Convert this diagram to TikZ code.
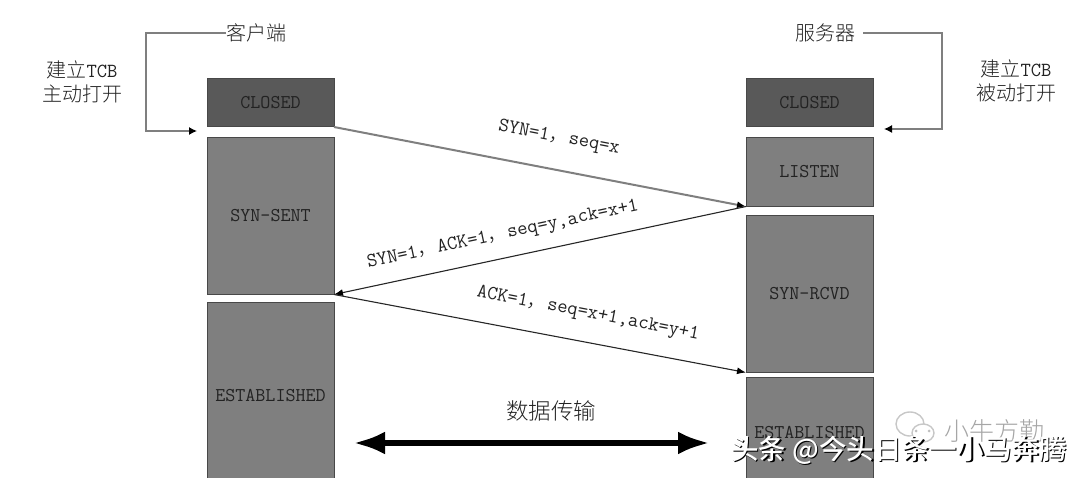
\documentclass[tikz,border=0pt]{standalone}
\usepackage{fontspec}
\newfontfamily\cjk[UprightFont=* Light]{Noto Sans CJK SC}
\newfontfamily\cjkb[UprightFont=* Medium]{Noto Sans CJK SC}
\usetikzlibrary{arrows.meta}
\definecolor{dark}{HTML}{595959}
\definecolor{mid}{HTML}{7F7F7F}
\definecolor{edge}{HTML}{484848}
\definecolor{ink}{HTML}{222222}
\tikzset{
  state/.style={draw=edge,line width=1pt,minimum width=127pt,inner sep=0pt,outer sep=0pt,text=ink,
    font=\ttfamily\fontsize{19.5}{20}\selectfont},
  closedbox/.style={state,fill=dark,minimum height=48pt},
  openbox/.style={state,fill=mid},
  title/.style={text=ink,inner sep=0pt,font=\cjk\fontsize{20}{22}\selectfont},
  note/.style={text=ink,inner sep=0pt,align=center,font=\cjk\fontsize{20}{24}\selectfont},
  msg/.style={text=ink,inner sep=0pt,font=\ttfamily\fontsize{20}{20}\selectfont},
  bracket/.style={draw=mid,line width=1.3pt,-{Latex[black,length=8pt,width=8pt]}},
  msgline/.style={draw=black!85,line width=1.1pt,-{Latex[black,length=9pt,width=7pt]}},
  markfont/.style={inner sep=0pt,font=\cjkb\fontsize{27.5}{30}\selectfont},
}
\newcommand{\tcb}[1]{#1{\ttfamily\fontsize{20}{20}\selectfont TCB}}
\begin{document}
\begin{tikzpicture}[x=1pt,y=-1pt]
\useasboundingbox (0,0) rectangle (1080,478);
\clip (0,0) rectangle (1080,478);
% client states
\node[closedbox] (cclosed) at (270.5,103) {CLOSED};
\node[openbox,minimum height=157pt] (csent) at (270.5,216) {SYN-SENT};
\node[openbox,minimum height=185pt] (cest) at (270.5,395.5) {ESTABLISHED};
% server states
\node[closedbox] (sclosed) at (809.5,103) {CLOSED};
\node[openbox,minimum height=69pt] (slisten) at (809.5,172) {LISTEN};
\node[openbox,minimum height=157pt] (srcvd) at (809.5,294) {SYN-RCVD};
\node[openbox,minimum height=110pt] (sest) at (809.5,433) {ESTABLISHED};
% titles
\node[title] (client) at (256,33) {客户端};
\node[title] (server) at (825,33) {服务器};
\node[note] (cnote) at (82,82) {建立\tcb{}\\主动打开};
\node[note] (snote) at (1016,81) {建立\tcb{}\\被动打开};
% brackets
\coordinate (cin) at (197,131);
\coordinate (sin) at (884,129);
\draw[bracket] (client.west) -- (146,33) -- (146,131) -- (cin);
\draw[bracket] (863,33) -- (942,33) -- (942,129) -- (sin);
% messages
\draw[msgline,draw=mid,line width=2pt] (cclosed.south east) -- (slisten.south west);
\draw[msgline] (slisten.south west) -- (csent.south east);
\draw[msgline] (csent.south east) -- (srcvd.south west);
\node[msg,rotate=-11] (m1) at (559,138) {SYN=1{\cjk，}seq=x};
\node[msg,rotate=12] (m2) at (503,235) {SYN=1{\cjk，}ACK=1{\cjk，}seq=y,ack=x+1};
\node[msg,rotate=-11] (m3) at (588,314) {ACK=1{\cjk，}seq=x+1,ack=y+1};
% data transfer
\node[title,font=\cjk\fontsize{22.5}{24}\selectfont] (data) at (551,411) {数据传输};
\coordinate (dl) at (353,443);
\coordinate (dr) at (710,443);
\draw[line width=6.5pt,{Latex[length=32pt,width=23pt]}-{Latex[length=32pt,width=23pt]}] (dl) -- (dr);
% wechat watermark
\begin{scope}[draw=black!22,line width=1.4pt,fill=none]
\draw (910,424) ellipse (14pt and 12pt);
\draw[fill=white] (923,433) ellipse (11pt and 9pt);
\fill[black!25] (916,431) circle (1.5pt) (929,431) circle (1.5pt);
\end{scope}
\node[inner sep=0pt,text=black!35,font=\cjk\fontsize{25}{28}\selectfont] (wm) at (994,431) {小牛方勤};
% overlay
\node[markfont,text=black] (shadow) at (900.5,451.5) {头条 @今头日条一小马奔腾};
\node[markfont,text=white] (overlay) at (899,450) {头条 @今头日条一小马奔腾};
\end{tikzpicture}
\end{document}
